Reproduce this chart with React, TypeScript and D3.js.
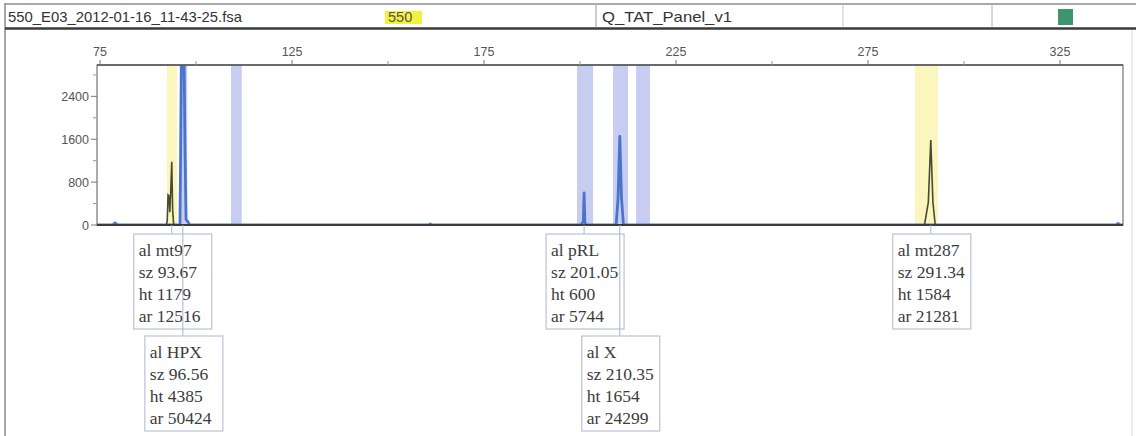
import React from 'react';
import * as d3 from 'd3';

// header cells
const fileName = '550_E03_2012-01-16_11-43-25.fsa';
const sampleName = '550';
const panelName = 'Q_TAT_Panel_v1';

// axes
const sizeTicks = [75, 125, 175, 225, 275, 325];
const sizeMinorTicks = [100, 150, 200, 250, 300];
const rfuTicks = [0, 800, 1600, 2400];
const rfuMinorTicks = [400, 1200, 2000, 2800];

// bins [start, end, kind]
const bins: [number, number, string][] = [
    [92.4, 95.0, 'yellow'],
    [95.7, 97.7, 'blue'],
    [109.1, 111.9, 'blue'],
    [199.2, 203.4, 'blue'],
    [208.6, 212.5, 'blue'],
    [214.6, 218.2, 'blue'],
    [287.2, 293.2, 'yellow'],
];

// traces [size bp, rfu]
const blackTrace: [number, number][] = [
    [74.2, 0], [92.3, 0], [92.5, 90], [92.7, 560], [92.95, 540], [93.15, 240],
    [93.4, 620], [93.67, 1179], [93.9, 280], [94.15, 20], [94.4, 0],
    [289.7, 0], [290.7, 420], [291.34, 1584], [291.9, 420], [292.5, 0], [341.4, 0],
];
const blueTrace: [number, number][] = [
    [74.2, 0], [78.3, 0], [78.9, 40], [79.5, 0],
    [95.8, 0], [96.0, 1500], [96.3, 3800], [96.56, 4385], [96.8, 3800], [97.1, 1500],
    [97.4, 100], [97.9, 60], [98.3, 0],
    [160.6, 0], [161.0, 20], [161.4, 0],
    [200.3, 0], [200.6, 40], [200.85, 60], [201.05, 600], [201.25, 60], [201.5, 0],
    [209.4, 0], [209.9, 500], [210.35, 1654], [210.8, 500], [211.3, 0],
    [339.6, 0], [340.1, 30], [340.6, 0], [341.4, 0],
];

// peak labels
const labelAllele = ['mt97', 'HPX', 'pRL', 'X', 'mt287'];
const labelSize = [93.67, 96.56, 201.05, 210.35, 291.34];
const labelHeight = [1179, 4385, 600, 1654, 1584];
const labelArea = [12516, 50424, 5744, 24299, 21281];
const labelRow = [0, 1, 0, 1, 0];

const W = 1136;
const H = 436;
const plot = { left: 97, right: 1123, top: 65, bottom: 225 };

const App = () => {
    const x = d3.scaleLinear().domain([74.2, 341.4]).range([plot.left, plot.right]);
    const y = d3.scaleLinear().domain([0, 2985]).range([plot.bottom, plot.top]);

    const line = d3.line<[number, number]>()
        .x(d => x(d[0]))
        .y(d => y(d[1]))
        .curve(d3.curveLinear);

    const sans = '"Liberation Sans", Arial, sans-serif';
    const serif = '"Liberation Serif", "Times New Roman", serif';

    const boxW = 78;
    const boxH = 95;
    const rowTop = [234, 336];

    return (
        <svg width={W} height={H} style={{ position: 'fixed', left: 0, top: 0, background: '#fff' }}>
            <defs>
                <clipPath id="plotClip">
                    <rect x={plot.left} y={plot.top} width={plot.right - plot.left} height={plot.bottom - plot.top + 1} />
                </clipPath>
            </defs>

            {/* outer panel */}
            <line x1={5} x2={5} y1={3} y2={H} stroke="#8a8a8a" strokeWidth={1.5} />
            <line x1={1132} x2={1132} y1={30} y2={H} stroke="#d8d8d8" strokeWidth={1} />

            {/* header */}
            <line x1={5} x2={W} y1={4} y2={4} stroke="#8c8c8c" strokeWidth={1.5} />
            <line x1={5} x2={W} y1={28.5} y2={28.5} stroke="#3a3a3a" strokeWidth={2.5} />
            <text x={8} y={22} fontFamily={sans} fontSize={14.5} fill="#333" textLength={234} lengthAdjust="spacingAndGlyphs">{fileName}</text>
            <rect x={385} y={11} width={37} height={13} fill="#f2f23c" />
            <text x={388} y={22} fontFamily={sans} fontSize={14.5} fill="#555">{sampleName}</text>
            <line x1={596} x2={596} y1={5} y2={27} stroke="#9a9a9a" />
            <text x={602} y={22} fontFamily={sans} fontSize={14.5} fill="#333" textLength={130} lengthAdjust="spacingAndGlyphs">{panelName}</text>
            <line x1={843} x2={843} y1={5} y2={27} stroke="#c8c8c8" />
            <line x1={992} x2={992} y1={5} y2={27} stroke="#b0b0b0" />
            <rect x={1058} y={9} width={15} height={16} fill="#3f9470" />

            {/* bins */}
            <g clipPath="url(#plotClip)">
                {bins.map((b, i) => (
                    <rect
                        key={i}
                        x={x(b[0])}
                        y={plot.top}
                        width={x(b[1]) - x(b[0])}
                        height={plot.bottom - plot.top}
                        fill={b[2] === 'yellow' ? '#fbf6bd' : '#c6cdf1'}
                    />
                ))}
            </g>

            {/* traces */}
            <g clipPath="url(#plotClip)">
                <path d={line(blueTrace) || ''} fill="none" stroke="#4a74cc" strokeWidth={2.8} strokeLinejoin="round" />
                <path d={line(blackTrace) || ''} fill="none" stroke="#4a4a32" strokeWidth={1.6} />
            </g>

            {/* frame */}
            <rect x={plot.left} y={plot.top} width={plot.right - plot.left} height={plot.bottom - plot.top}
                fill="none" stroke="#5a5a5a" strokeWidth={1} />
            <line x1={plot.left} x2={plot.right} y1={plot.top} y2={plot.top} stroke="#555" strokeWidth={1.5} />
            <line x1={plot.left} x2={plot.right} y1={plot.bottom} y2={plot.bottom} stroke="#3a3a3a" strokeWidth={2} />

            {/* size axis (top) */}
            {sizeTicks.map(t => (
                <g key={t}>
                    <line x1={x(t)} x2={x(t)} y1={plot.top - 5} y2={plot.top} stroke="#777" />
                    <text x={x(t)} y={56} textAnchor="middle" fontFamily={sans} fontSize={12.5} fill="#555">{t}</text>
                </g>
            ))}
            {sizeMinorTicks.map(t => (
                <line key={t} x1={x(t)} x2={x(t)} y1={plot.top - 4} y2={plot.top} stroke="#999" />
            ))}

            {/* rfu axis */}
            {rfuTicks.map(t => (
                <g key={t}>
                    <line x1={plot.left - 6} x2={plot.left} y1={y(t)} y2={y(t)} stroke="#777" />
                    <text x={plot.left - 8} y={y(t) + 4.5} textAnchor="end" fontFamily={sans} fontSize={12.5} fill="#555">{t}</text>
                </g>
            ))}
            {rfuMinorTicks.map(t => (
                <line key={t} x1={plot.left - 4} x2={plot.left} y1={y(t)} y2={y(t)} stroke="#999" />
            ))}

            {/* peak labels */}
            {labelAllele.map((al, i) => {
                const px = x(labelSize[i]);
                const top = rowTop[labelRow[i]];
                const left = px - 38;
                const lines = [`al ${al}`, `sz ${labelSize[i].toFixed(2)}`, `ht ${labelHeight[i]}`, `ar ${labelArea[i]}`];
                return (
                    <g key={al}>
                        <line x1={px} x2={px} y1={plot.bottom} y2={top} stroke="#a8b4c8" strokeWidth={1} />
                        <rect x={left} y={top} width={boxW} height={boxH} fill="#fff" stroke="#b8c2d6" strokeWidth={1.2} />
                        {lines.map((s, j) => (
                            <text key={j} x={left + 5} y={top + 22 + j * 22} fontFamily={serif} fontSize={17.5} fill="#3c3c3c">{s}</text>
                        ))}
                    </g>
                );
            })}
        </svg>
    );
};

export default App;
